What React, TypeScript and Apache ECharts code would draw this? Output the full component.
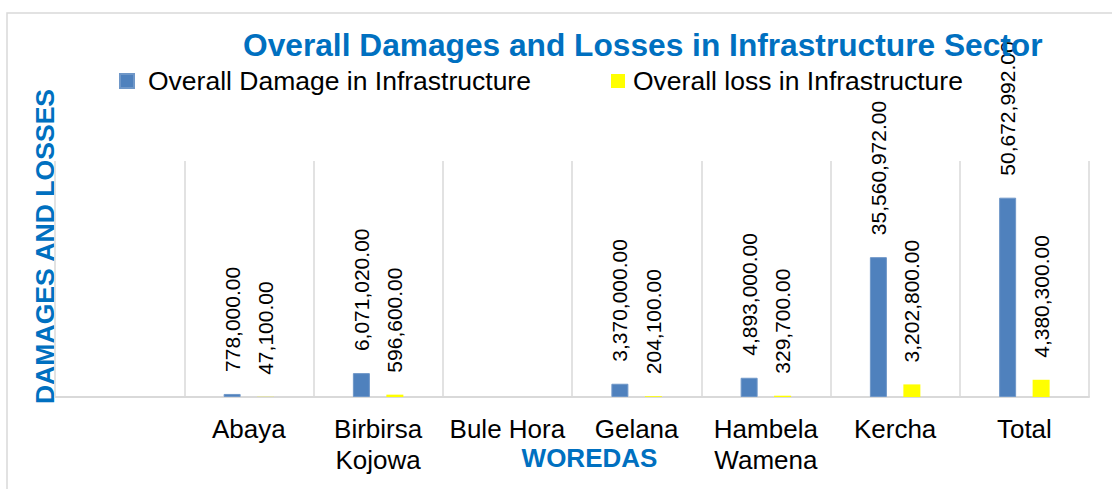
import React, { useEffect, useRef } from "react";
import * as echarts from "echarts";

const categories = ["", "Abaya", "Birbirsa\nKojowa", "Bule Hora", "Gelana", "Hambela\nWamena", "Kercha", "Total"];
const damageValues = [null, 778000, 6071020, null, 3370000, 4893000, 35560972, 50672992];
const lossValues = [null, 47100, 596600, null, 204100, 329700, 3202800, 4380300];
const damageName = "Overall Damage in Infrastructure";
const lossName = "Overall loss in Infrastructure";
const titleText = "Overall Damages and Losses in Infrastructure Sector";
const yName = "DAMAGES AND LOSSES";
const xName = "WOREDAS";

const FONT = "'Liberation Sans', Arial, sans-serif";
const BLUE = "#0070C0";

const fmt = (v: any) =>
  v == null ? "" : Number(v).toLocaleString("en-US", { minimumFractionDigits: 2, maximumFractionDigits: 2 });

export default function App() {
  const ref = useRef<HTMLDivElement>(null);
  useEffect(() => {
    if (!ref.current) return;
    const chart = echarts.init(ref.current, null, { renderer: "svg" });
    const labelCfg = {
      show: true,
      position: "top",
      rotate: 90,
      align: "left",
      verticalAlign: "middle",
      distance: 22,
      fontSize: 21,
      fontFamily: FONT,
      color: "#000",
      formatter: (p: any) => fmt(p.value),
    };
    chart.setOption({
      animation: false,
      backgroundColor: "#fff",
      textStyle: { fontFamily: FONT },
      title: {
        text: titleText,
        left: 243,
        top: 27,
        padding: 0,
        textStyle: { fontSize: 31.7, fontWeight: "bold", color: BLUE, fontFamily: FONT, lineHeight: 36 },
      },
      legend: [
        {
          data: [damageName],
          left: 119,
          top: 66,
          padding: 0,
          icon: "rect",
          itemWidth: 14,
          itemHeight: 14,
          textStyle: { fontSize: 26.5, color: "#000", fontFamily: FONT, lineHeight: 30, padding: [0, 0, 0, 9] },
        },
        {
          data: [lossName],
          left: 611,
          top: 66,
          padding: 0,
          icon: "rect",
          itemWidth: 14,
          itemHeight: 14,
          textStyle: { fontSize: 26.5, color: "#000", fontFamily: FONT, lineHeight: 30, padding: [0, 0, 0, 3] },
        },
      ],
      grid: { left: 55, right: 23, top: 161, bottom: 92, containLabel: false },
      xAxis: {
        type: "category",
        data: categories,
        boundaryGap: true,
        axisLine: { show: true, lineStyle: { color: "#d9d9d9", width: 2 } },
        axisTick: { show: false },
        splitLine: { show: true, lineStyle: { color: "#d9d9d9", width: 1.5 } },
        axisLabel: {
          interval: 0,
          margin: 16,
          fontSize: 26,
          lineHeight: 31,
          color: "#000",
          fontFamily: FONT,
        },
      },
      yAxis: {
        type: "value",
        min: 0,
        max: 60000000,
        show: false,
        splitLine: { show: false },
      },
      graphic: [
        {
          type: "rect",
          silent: true,
          shape: { x: 7, y: 13, width: 1300, height: 700 },
          style: { fill: "none", stroke: "#d9d9d9", lineWidth: 1.5 },
        },
        {
          type: "text",
          x: 45,
          y: 246.5,
          rotation: Math.PI / 2,
          style: {
            text: yName,
            fontSize: 26.6,
            fontWeight: "bold",
            fill: BLUE,
            fontFamily: FONT,
            align: "center",
            verticalAlign: "middle",
          },
        },
        {
          type: "text",
          x: 589.5,
          y: 457.5,
          style: {
            text: xName,
            fontSize: 26,
            fontWeight: "bold",
            fill: BLUE,
            fontFamily: FONT,
            align: "center",
            verticalAlign: "middle",
          },
        },
      ],
      series: [
        {
          name: damageName,
          type: "bar",
          data: damageValues,
          barWidth: 17,
          barGap: "97%",
          itemStyle: { color: "#4F81BD", borderColor: "#6f97c8", borderWidth: 1 },
          label: labelCfg,
        },
        {
          name: lossName,
          type: "bar",
          data: lossValues,
          barWidth: 17,
          itemStyle: { color: "#FFFF00" },
          label: labelCfg,
        },
      ],
    });
    return () => chart.dispose();
  }, []);
  return <div ref={ref} style={{ position: "fixed", left: 0, top: 0, width: 1112, height: 489 }} />;
}
